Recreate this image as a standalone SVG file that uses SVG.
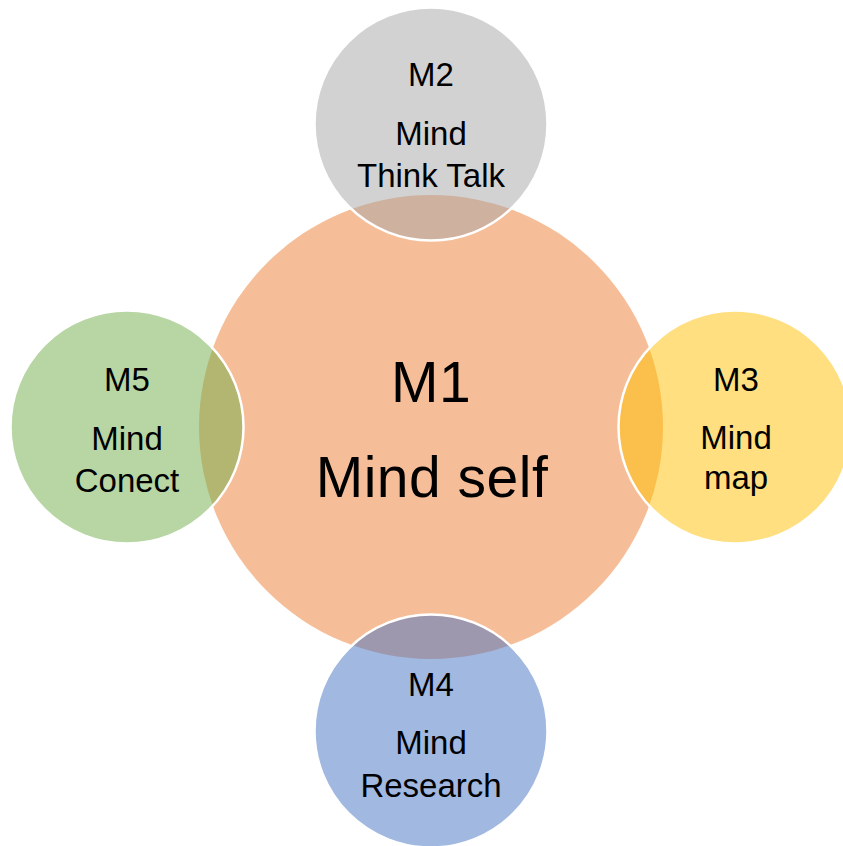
<svg xmlns="http://www.w3.org/2000/svg" width="843" height="846" viewBox="0 0 843 846">
<style>
  .sat { stroke: #FFFFFF; stroke-width: 2.5; fill-opacity: 0.5; }
  text { font-family: "Liberation Sans", Arial, sans-serif; fill: #000000; text-anchor: middle; }
  .s { font-size: 33px; }
  .c { font-size: 57px; letter-spacing: 0.5px; }
</style>
<rect width="843" height="846" fill="#FFFFFF"/>
<g id="M1">
  <circle cx="431" cy="427" r="232" fill="#ED7D31" fill-opacity="0.5"/>
  <text class="c" x="431" y="402">M1</text>
  <text class="c" x="432" y="497">Mind self</text>
</g>
<g id="M2">
  <circle class="sat" cx="431" cy="124" r="116.5" fill="#A5A5A5"/>
  <text class="s" x="431" y="86">M2</text>
  <text class="s" x="431" y="145">Mind</text>
  <text class="s" x="431" y="187">Think Talk</text>
</g>
<g id="M3">
  <circle class="sat" cx="735" cy="427" r="116.5" fill="#FFC000"/>
  <text class="s" x="736" y="391">M3</text>
  <text class="s" x="736" y="449">Mind</text>
  <text class="s" x="736" y="489">map</text>
</g>
<g id="M4">
  <circle class="sat" cx="431" cy="731" r="116.5" fill="#4472C4"/>
  <text class="s" x="431" y="696">M4</text>
  <text class="s" x="431" y="754">Mind</text>
  <text class="s" x="431" y="797">Research</text>
</g>
<g id="M5">
  <circle class="sat" cx="127" cy="427" r="116.5" fill="#70AD47"/>
  <text class="s" x="127" y="391">M5</text>
  <text class="s" x="127" y="450">Mind</text>
  <text class="s" x="127" y="492">Conect</text>
</g>
</svg>
